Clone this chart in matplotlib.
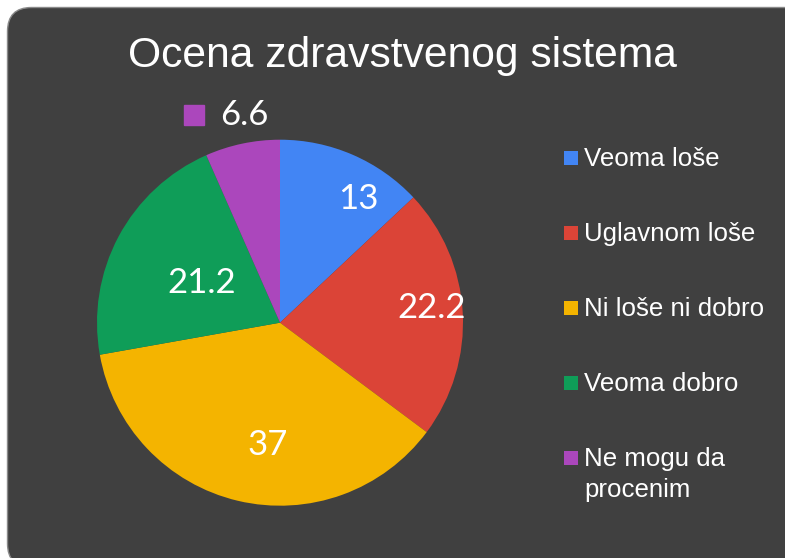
import matplotlib.pyplot as plt
import numpy as np
from matplotlib.patches import FancyBboxPatch, Rectangle

# data
categories = ["Veoma loše", "Uglavnom loše", "Ni loše ni dobro", "Veoma dobro", "Ne mogu da\nprocenim"]
values = [13, 22.2, 37, 21.2, 6.6]
value_labels = ["13", "22.2", "37", "21.2", "6.6"]
colors = ["#4285F4", "#DB4437", "#F4B400", "#0F9D58", "#AB47BC"]

card_color = "#404040"
title_font = "Liberation Sans"
label_font = "Lato"

fig = plt.figure(figsize=(7.85, 5.58), dpi=100)
fig.patch.set_facecolor("white")

# background card, axes in pixel units
bg = fig.add_axes([0, 0, 1, 1])
bg.set_xlim(0, 785)
bg.set_ylim(558, 0)
bg.axis("off")
card = FancyBboxPatch((7.5, 7.5), 800, 560, boxstyle="round,pad=0,rounding_size=24",
                      facecolor=card_color, edgecolor="#8a8a8a", linewidth=1.0)
bg.add_patch(card)

bg.text(402, 67, "Ocena zdravstvenog sistema", color="white", fontsize=30.7,
        family=title_font, ha="center", va="baseline")

# legend, drawn by hand so the wrapped label lines up like the original
# (key sits on the first line, the rest wraps below)
for i, (cat, col) in enumerate(zip(categories, colors)):
    y = 157.7 + i * 75
    bg.add_patch(Rectangle((564, y - 6.8), 13.7, 13.7, facecolor=col, edgecolor="none"))
    for k, line in enumerate(cat.split("\n")):
        bg.text(584, y + 8.0 + k * 31.3, line, color="white", fontsize=18.6,
                family=title_font, ha="left", va="baseline")

# pie
ax = fig.add_axes([97 / 785, (558 - 322.7 - 183) / 558, 366 / 785, 366 / 558])
wedges, _ = ax.pie(values, colors=colors, startangle=90, counterclock=False,
                   wedgeprops=dict(linewidth=0))
ax.set_xlim(-1, 1)
ax.set_ylim(-1, 1)
ax.axis("off")

# label placement (Excel "best fit"-like): angle shift and radius per slice
shift_deg = [-8.8, 2.4, 7.7, 1.1]
radius = [0.80, 0.83, 0.67, 0.48]
for w, lab, ds, r in zip(wedges[:4], value_labels[:4], shift_deg, radius):
    ang = np.deg2rad((w.theta1 + w.theta2) / 2 + ds)
    ax.text(r * np.cos(ang), r * np.sin(ang), lab, color="white", fontsize=25,
            family=label_font, ha="center", va="center")

# small slice: label outside with its legend key
w = wedges[4]
ang = np.deg2rad((w.theta1 + w.theta2) / 2 + 2.9)
lx, ly = 1.175 * np.cos(ang), 1.175 * np.sin(ang)
ax.plot(lx - 0.17, ly, marker="s", markersize=15, color=colors[4], clip_on=False)
ax.text(lx - 0.03, ly, value_labels[4], color="white", fontsize=25,
        family=label_font, ha="left", va="center", clip_on=False)

fig.savefig("out.png", dpi=100)
